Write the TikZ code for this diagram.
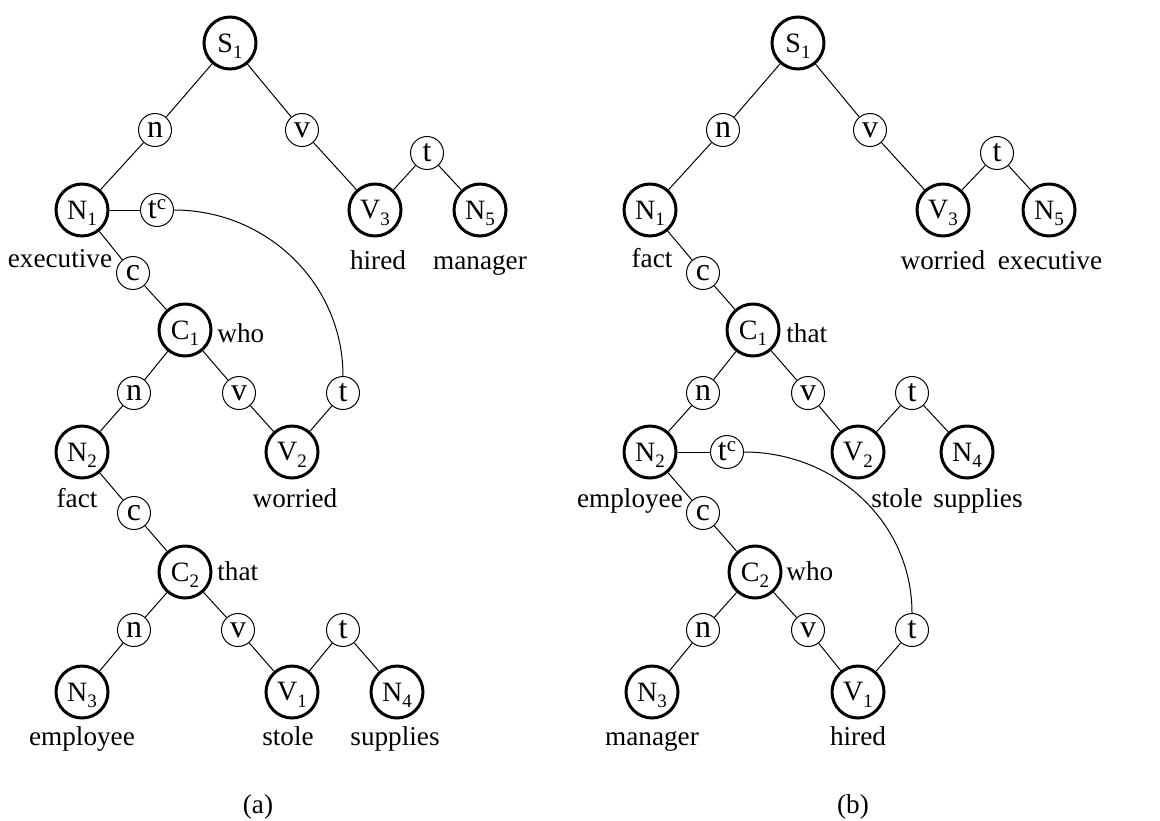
\documentclass[tikz,border=0pt]{standalone}
\usepackage{fontspec}
\setmainfont{Liberation Serif}
\usetikzlibrary{positioning}

\newcommand\idx[2]{#1\raisebox{-3.2pt}[0pt][0pt]{\fontsize{9.5}{9.5}\selectfont #2}}
\newcommand\tcomp{t\raisebox{0.28em}[0pt][0pt]{\fontsize{10.5}{10.5}\selectfont c}}

\begin{document}
\begin{tikzpicture}[x=0.5pt,y=-0.5pt,
  phrase/.style={circle,draw,line width=1.5pt,minimum size=26pt,inner sep=0pt,font=\fontsize{14}{16}\selectfont},
  role/.style={circle,draw,line width=0.5pt,minimum size=16.5pt,inner sep=0pt,font=\fontsize{16}{18}\selectfont},
  word/.style={anchor=base,inner sep=0pt,font=\fontsize{13.6}{15}\selectfont},
  link/.style={line width=0.5pt}]
\useasboundingbox (0,0) rectangle (1160,820);

% (a)
\node[phrase] (aS) at (230,43) {\idx{S}{1}};
\node[role] (an) at (155,130) {n};
\node[role] (av) at (302,130) {v};
\node[phrase] (aN1) at (82,210) {\idx{N}{1}};
\node[role] (atc) at (157,210) {\tcomp};
\node[phrase] (aV3) at (375,210) {\idx{V}{3}};
\node[role] (at) at (427,153) {t};
\node[phrase] (aN5) at (480,210) {\idx{N}{5}};
\node[role] (ac1) at (133,273) {c};
\node[phrase] (aC1) at (185,330) {\idx{C}{1}};
\node[role] (an2) at (134,393) {n};
\node[role] (av2) at (239,393) {v};
\node[role] (at2) at (343,393) {t};
\node[phrase] (aN2) at (82,452) {\idx{N}{2}};
\node[phrase] (aV2) at (292,452) {\idx{V}{2}};
\node[role] (ac2) at (134,513) {c};
\node[phrase] (aC2) at (185,572) {\idx{C}{2}};
\node[role] (an3) at (134,630) {n};
\node[role] (av3) at (238,630) {v};
\node[role] (at3) at (343,630) {t};
\node[phrase] (aN3) at (82,692) {\idx{N}{3}};
\node[phrase] (aV1) at (292,692) {\idx{V}{1}};
\node[phrase] (aN4) at (397,692) {\idx{N}{4}};

\node[word] (aw1) at (60,267) {executive};
\node[word] (aw2) at (378,269) {hired};
\node[word] (aw3) at (480,269) {manager};
\node[word,anchor=base west] (aw4) at (217,342) {who};
\node[word] (aw5) at (77,507) {fact};
\node[word] (aw6) at (295,507) {worried};
\node[word,anchor=base west] (aw7) at (217,580) {that};
\node[word] (aw8) at (82,745) {employee};
\node[word] (aw9) at (288,745) {stole};
\node[word] (aw10) at (395,745) {supplies};
\node[word] (acap) at (258,813) {(a)};

\foreach \u/\v in {aS/an,aS/av,an/aN1,av/aV3,at/aV3,at/aN5,aN1/atc,aN1/ac1,
  ac1/aC1,aC1/an2,aC1/av2,an2/aN2,av2/aV2,at2/aV2,aN2/ac2,ac2/aC2,
  aC2/an3,aC2/av3,an3/aN3,av3/aV1,at3/aV1,at3/aN4}
  \draw[link] (\u) -- (\v);
\draw[link] (atc.east) to[out=0,in=90] (at2.north);

% (b)
\node[phrase] (bS) at (798,43) {\idx{S}{1}};
\node[role] (bn) at (723,130) {n};
\node[role] (bv) at (870,130) {v};
\node[phrase] (bN1) at (650,210) {\idx{N}{1}};
\node[phrase] (bV3) at (943,210) {\idx{V}{3}};
\node[role] (bt) at (997,153) {t};
\node[phrase] (bN5) at (1049,210) {\idx{N}{5}};
\node[role] (bc1) at (703,273) {c};
\node[phrase] (bC1) at (753,330) {\idx{C}{1}};
\node[role] (bn2) at (703,393) {n};
\node[role] (bv2) at (808,393) {v};
\node[role] (bt2) at (912,393) {t};
\node[phrase] (bN2) at (650,452) {\idx{N}{2}};
\node[role] (btc) at (727,452) {\tcomp};
\node[phrase] (bV2) at (858,452) {\idx{V}{2}};
\node[phrase] (bN4) at (967,452) {\idx{N}{4}};
\node[role] (bc2) at (703,513) {c};
\node[phrase] (bC2) at (755,572) {\idx{C}{2}};
\node[role] (bn3) at (703,630) {n};
\node[role] (bv3) at (808,630) {v};
\node[role] (bt3) at (912,630) {t};
\node[phrase] (bN3) at (652,692) {\idx{N}{3}};
\node[phrase] (bV1) at (858,692) {\idx{V}{1}};

\node[word] (bw1) at (652,267) {fact};
\node[word] (bw2) at (943,269) {worried};
\node[word] (bw3) at (1050,269) {executive};
\node[word,anchor=base west] (bw4) at (786,342) {that};
\node[word] (bw5) at (630,507) {employee};
\node[word] (bw6) at (897,507) {stole};
\node[word] (bw7) at (978,507) {supplies};
\node[word,anchor=base west] (bw8) at (786,580) {who};
\node[word] (bw9) at (652,745) {manager};
\node[word] (bw10) at (858,745) {hired};
\node[word] (bcap) at (853,813) {(b)};

\foreach \u/\v in {bS/bn,bS/bv,bn/bN1,bv/bV3,bt/bV3,bt/bN5,bN1/bc1,bc1/bC1,
  bC1/bn2,bC1/bv2,bn2/bN2,bv2/bV2,bt2/bV2,bt2/bN4,bN2/btc,bN2/bc2,
  bc2/bC2,bC2/bn3,bC2/bv3,bn3/bN3,bv3/bV1,bt3/bV1}
  \draw[link] (\u) -- (\v);
\draw[link] (btc.east) to[out=0,in=90] (bt3.north);
\end{tikzpicture}
\end{document}
